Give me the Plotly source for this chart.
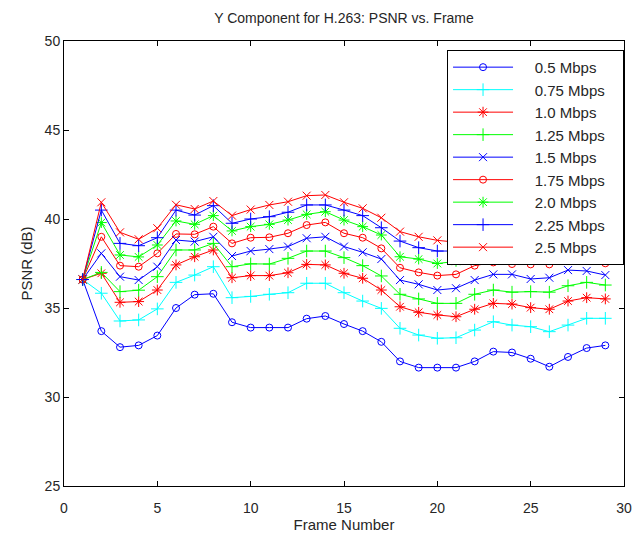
import plotly.graph_objects as go

frames = [1, 2, 3, 4, 5, 6, 7, 8, 9, 10, 11, 12, 13, 14, 15, 16, 17, 18, 19, 20,
          21, 22, 23, 24, 25, 26, 27, 28, 29]

psnr_0_5 = [36.6, 33.7, 32.8, 32.9, 33.45, 35.0, 35.75, 35.8, 34.2, 33.9, 33.9, 33.9, 34.4, 34.55,
            34.1, 33.7, 33.1, 32.0, 31.65, 31.65, 31.65, 32.0, 32.55, 32.5, 32.15, 31.7, 32.25, 32.75, 32.9]
psnr_0_75 = [36.6, 35.83, 34.27, 34.33, 34.95, 36.44, 36.85, 37.32, 35.58, 35.65, 35.77, 35.86, 36.39, 36.39,
             35.86, 35.39, 34.98, 33.86, 33.48, 33.3, 33.33, 33.76, 34.23, 34.04, 33.95, 33.67, 34.04, 34.42, 34.42]
psnr_1_0 = [36.6, 36.95, 35.32, 35.36, 36.01, 37.42, 37.88, 38.26, 36.7, 36.82, 36.82, 36.98, 37.45, 37.42,
            36.95, 36.67, 36.01, 35.07, 34.76, 34.61, 34.51, 34.93, 35.26, 35.22, 35.02, 34.93, 35.39, 35.58, 35.51]
psnr_1_25 = [36.6, 37.0, 35.92, 36.0, 36.76, 38.26, 38.26, 38.63, 37.32, 37.48, 37.47, 37.79, 38.2, 38.2,
             37.83, 37.38, 36.8, 35.77, 35.51, 35.26, 35.26, 35.77, 36.01, 35.89, 35.92, 35.89, 36.25, 36.44, 36.29]
psnr_1_5 = [36.6, 38.07, 36.76, 36.57, 37.32, 38.82, 38.73, 39.0, 37.92, 38.2, 38.31, 38.45, 38.92, 39.0,
            38.45, 38.13, 37.75, 36.57, 36.33, 36.01, 36.11, 36.57, 36.89, 36.89, 36.63, 36.7, 37.13, 37.08, 36.85]
psnr_1_75 = [36.6, 39.0, 37.38, 37.32, 38.07, 39.16, 39.14, 39.57, 38.63, 38.95, 38.97, 39.2, 39.66, 39.81,
             39.2, 38.95, 38.35, 37.26, 37.0, 36.82, 36.89, 37.38, 37.56, 37.47, 37.45, 37.45, 37.88, 37.88, 37.51]
psnr_2_0 = [36.6, 39.8, 37.98, 37.87, 38.54, 39.89, 39.7, 40.19, 39.33, 39.57, 39.7, 39.94, 40.26, 40.41,
            39.94, 39.57, 39.1, 37.88, 37.75, 37.5, 37.62, 37.95, 38.2, 38.1, 38.05, 38.0, 38.4, 38.45, 38.0]
psnr_2_25 = [36.6, 40.5, 38.63, 38.5, 38.95, 40.5, 40.22, 40.75, 39.76, 40.0, 40.13, 40.38, 40.79, 40.79,
             40.5, 40.19, 39.51, 38.76, 38.39, 38.2, 38.2, 38.5, 38.8, 38.7, 38.6, 38.6, 38.9, 39.0, 38.6]
psnr_2_5 = [36.6, 40.94, 39.25, 38.86, 39.48, 40.8, 40.56, 41.01, 40.19, 40.53, 40.79, 40.97, 41.31, 41.35,
            40.94, 40.6, 40.07, 39.29, 39.0, 38.8, 38.7, 39.0, 39.3, 39.2, 39.1, 39.1, 39.4, 39.5, 39.1]

labels = ["0.5 Mbps", "0.75 Mbps", "1.0 Mbps", "1.25 Mbps", "1.5 Mbps",
          "1.75 Mbps", "2.0 Mbps", "2.25 Mbps", "2.5 Mbps"]
series = [psnr_0_5, psnr_0_75, psnr_1_0, psnr_1_25, psnr_1_5,
          psnr_1_75, psnr_2_0, psnr_2_25, psnr_2_5]

BLUE, CYAN, RED, GREEN = "#0000ff", "#00ffff", "#ff0000", "#00ff00"
styles = [
    (BLUE, "circle-open", 7),
    (CYAN, "cross-thin-open", 9),
    (RED, "asterisk-open", 9),
    (GREEN, "cross-thin-open", 9),
    (BLUE, "x-thin-open", 8),
    (RED, "circle-open", 7),
    (GREEN, "asterisk-open", 9),
    (BLUE, "cross-thin-open", 9),
    (RED, "x-thin-open", 8),
]

fig = go.Figure()
for name, ys, (col, sym, sz) in zip(labels, series, styles):
    fig.add_trace(go.Scatter(
        x=frames, y=ys, mode="lines+markers",
        name="\u00a0" * 4 + name + "\u00a0" * 3,
        line=dict(color=col, width=1),
        marker=dict(symbol=sym, size=sz, color=col, line=dict(color=col, width=1)),
    ))

font_family = "Liberation Sans, Arial, sans-serif"
axis_common = dict(
    showline=True, linecolor="black", linewidth=1, mirror="allticks",
    ticks="inside", ticklen=5, tickcolor="black", showgrid=False, zeroline=False,
    tickfont=dict(family=font_family, size=14, color="#262626"),
)

fig.update_layout(
    width=644, height=541,
    margin=dict(l=64, r=13, t=41, b=55),
    paper_bgcolor="white", plot_bgcolor="white",
    font=dict(family=font_family, size=14, color="#262626"),
    title=dict(text="Y Component for H.263: PSNR vs. Frame", x=0.5, xref="paper",
               y=1 - 18 / 541, yref="container", yanchor="middle",
               font=dict(family=font_family, size=14, color="#262626")),
    xaxis=dict(range=[0, 30], tickvals=[0, 5, 10, 15, 20, 25, 30],
               ticklabelstandoff=9,
               title=dict(text="Frame Number", standoff=3,
                          font=dict(family=font_family, size=15, color="#262626")),
               **axis_common),
    yaxis=dict(range=[25, 50], tickvals=[25, 30, 35, 40, 45, 50],
               title=dict(text="PSNR (dB)", standoff=8,
                          font=dict(family=font_family, size=15, color="#262626")),
               **axis_common),
    legend=dict(x=0.684, y=0.98, xanchor="left", yanchor="top",
                bgcolor="white", bordercolor="black", borderwidth=1,
                itemwidth=60,
                font=dict(family=font_family, size=15, color="#262626")),
    showlegend=True,
)

fig.write_html("out.html")
